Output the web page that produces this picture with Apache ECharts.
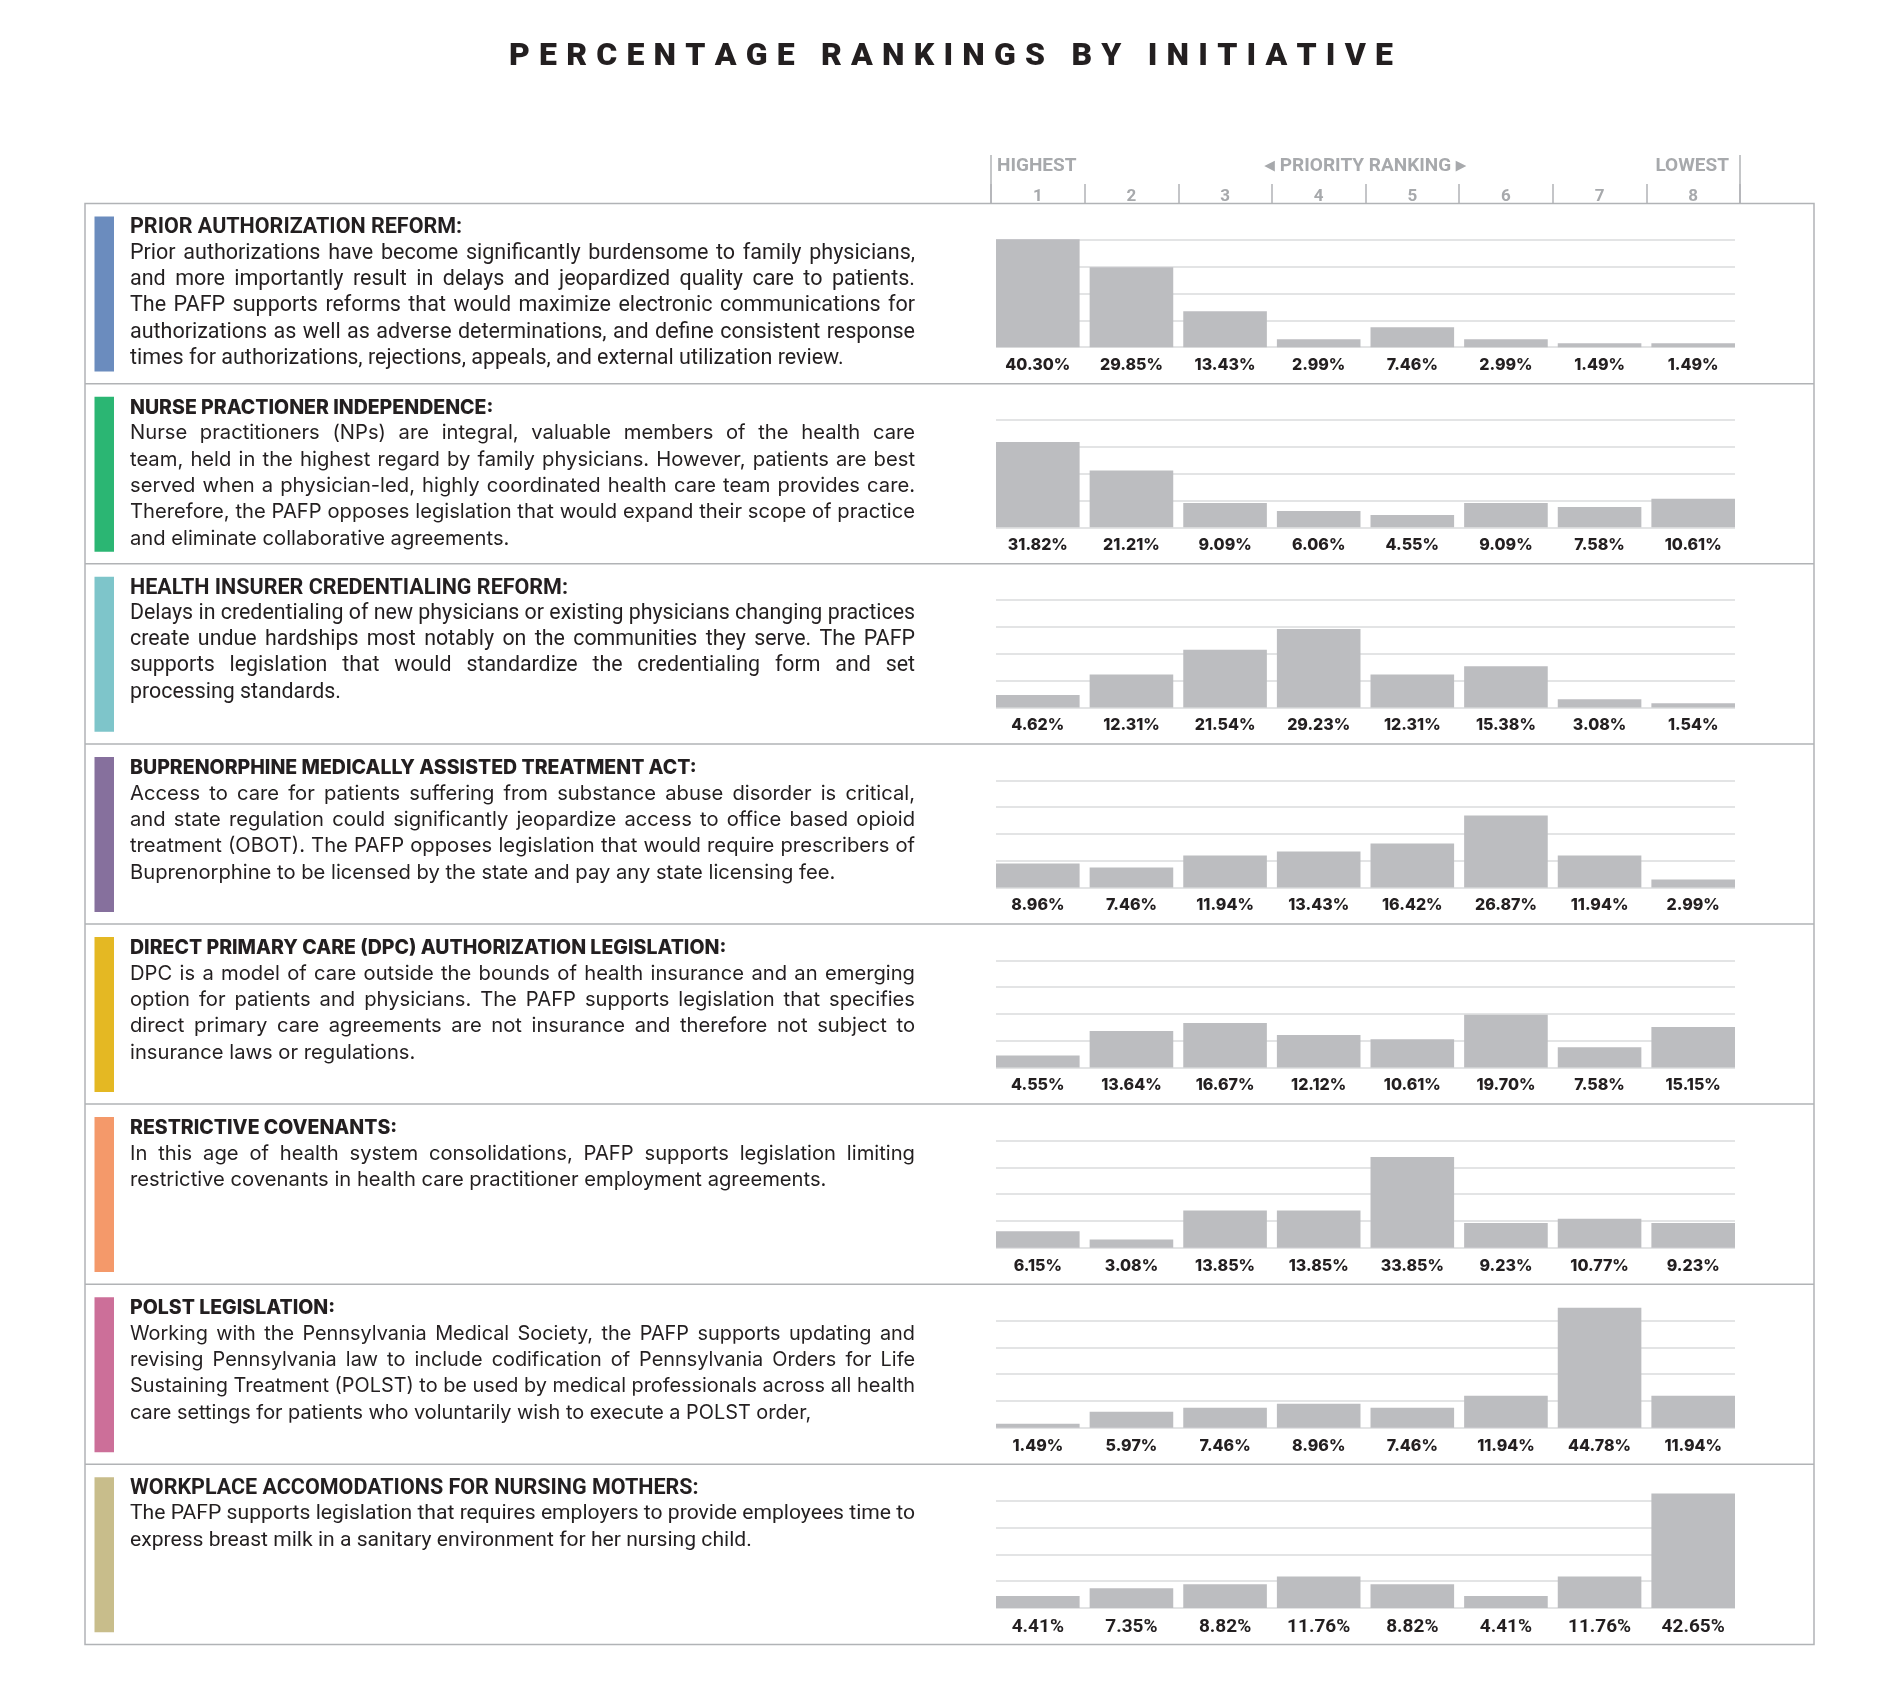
<!DOCTYPE html>
<html><head><meta charset="utf-8">
<script src="https://cdn.jsdelivr.net/npm/echarts@6/dist/echarts.min.js"></script>
<style>html,body{margin:0;padding:0;background:#fff}#chart{width:1900px;height:1689px}</style>
</head><body><div id="chart"></div>
<script>
// ---------- DATA ----------
const chartTitle = 'PERCENTAGE RANKINGS BY INITIATIVE';
const headerHigh = 'HIGHEST';
const headerMid = '\u25C2 PRIORITY RANKING \u25B8';
const headerLow = 'LOWEST';
const ranks = ['1', '2', '3', '4', '5', '6', '7', '8'];

const initiatives = [
  'PRIOR AUTHORIZATION REFORM:',
  'NURSE PRACTIONER INDEPENDENCE:',
  'HEALTH INSURER CREDENTIALING REFORM:',
  'BUPRENORPHINE MEDICALLY ASSISTED TREATMENT ACT:',
  'DIRECT PRIMARY CARE (DPC) AUTHORIZATION LEGISLATION:',
  'RESTRICTIVE COVENANTS:',
  'POLST LEGISLATION:',
  'WORKPLACE ACCOMODATIONS FOR NURSING MOTHERS:'
];

const descriptions = [
  ['Prior authorizations have become significantly burdensome to family physicians,',
   'and more importantly result in delays and jeopardized quality care to patients.',
   'The PAFP supports reforms that would maximize electronic communications for',
   'authorizations as well as adverse determinations, and define consistent response',
   'times for authorizations, rejections, appeals, and external utilization review.'],
  ['Nurse practitioners (NPs) are integral, valuable members of the health care',
   'team, held in the highest regard by family physicians. However, patients are best',
   'served when a physician-led, highly coordinated health care team provides care.',
   'Therefore, the PAFP opposes legislation that would expand their scope of practice',
   'and eliminate collaborative agreements.'],
  ['Delays in credentialing of new physicians or existing physicians changing practices',
   'create undue hardships most notably on the communities they serve. The PAFP',
   'supports legislation that would standardize the credentialing form and set',
   'processing standards.'],
  ['Access to care for patients suffering from substance abuse disorder is critical,',
   'and state regulation could significantly jeopardize access to office based opioid',
   'treatment (OBOT). The PAFP opposes legislation that would require prescribers of',
   'Buprenorphine to be licensed by the state and pay any state licensing fee.'],
  ['DPC is a model of care outside the bounds of health insurance and an emerging',
   'option for patients and physicians. The PAFP supports legislation that specifies',
   'direct primary care agreements are not insurance and therefore not subject to',
   'insurance laws or regulations.'],
  ['In this age of health system consolidations, PAFP supports legislation limiting',
   'restrictive covenants in health care practitioner employment agreements.'],
  ['Working with the Pennsylvania Medical Society, the PAFP supports updating and',
   'revising Pennsylvania law to include codification of Pennsylvania Orders for Life',
   'Sustaining Treatment (POLST) to be used by medical professionals across all health',
   'care settings for patients who voluntarily wish to execute a POLST order,'],
  ['The PAFP supports legislation that requires employers to provide employees time to',
   'express breast milk in a sanitary environment for her nursing child.']
];

const priorAuthorization = [40.30, 29.85, 13.43, 2.99, 7.46, 2.99, 1.49, 1.49];
const nursePractitioner  = [31.82, 21.21, 9.09, 6.06, 4.55, 9.09, 7.58, 10.61];
const insurerCredentialing = [4.62, 12.31, 21.54, 29.23, 12.31, 15.38, 3.08, 1.54];
const buprenorphine      = [8.96, 7.46, 11.94, 13.43, 16.42, 26.87, 11.94, 2.99];
const directPrimaryCare  = [4.55, 13.64, 16.67, 12.12, 10.61, 19.70, 7.58, 15.15];
const restrictiveCovenants = [6.15, 3.08, 13.85, 13.85, 33.85, 9.23, 10.77, 9.23];
const polstLegislation   = [1.49, 5.97, 7.46, 8.96, 7.46, 11.94, 44.78, 11.94];
const nursingMothers     = [4.41, 7.35, 8.82, 11.76, 8.82, 4.41, 11.76, 42.65];

const seriesValues = [priorAuthorization, nursePractitioner, insurerCredentialing, buprenorphine,
  directPrimaryCare, restrictiveCovenants, polstLegislation, nursingMothers];

const accentColors = ['#6b8cbe', '#2bb673', '#7ec5ca', '#86709d', '#e4b823', '#f4996a', '#cc6f99', '#c8bd8b'];

// ---------- LAYOUT / STYLE ----------
const boxL = 85, boxR = 1814, boxT = 203.6, rowH = 180.1;
const gridL = 991, gridW = 749;          // bar area (category bands)
const lineL = 996, lineW = 739;          // gridline span
const textL = 130, textR = 915;
const ink = '#231f20', rule = '#b1b3b6', headGray = '#a7a9ac', barGray = '#bcbdc0', gridGray = '#dadbdd';

const mctx = document.createElement('canvas').getContext('2d');
function measure(font, s) { mctx.font = font; return mctx.measureText(s).width; }

const condensedRows = [0, 2, 7];
function rowFonts(i) {
  const lab = i === 7 ? { labFam: 'Roboto', lab: 19, labW: 700 } : { labFam: 'Inter', lab: 16, labW: 800 };
  if (condensedRows.indexOf(i) >= 0) return Object.assign({ fam: 'Roboto', body: 21.5, bodyW: 400, head: 21.5, headW: 700 }, lab);
  return Object.assign({ fam: 'Inter', body: 20.2, bodyW: 400, head: 19.5, headW: 800 }, lab);
}

const graphics = [];
// chart title, letter-spaced
const titleFont = '900 32px Roboto';
const titleTarget = 884;
const chars = chartTitle.split('');
const cw = chars.map(c => measure(titleFont, c));
const natural = cw.reduce((a, b) => a + b, 0);
const letterSp = Math.max(0, (titleTarget - natural) / (chars.length - 1));
let tx = 951 - (natural + letterSp * (chars.length - 1)) / 2;
chars.forEach((c, k) => {
  if (c !== ' ') {
    graphics.push({ type: 'text', x: tx, y: 56.5, silent: true,
      style: { text: c, fontSize: 32, fontFamily: 'Roboto', fontWeight: 900, fill: ink,
        align: 'left', verticalAlign: 'middle', textAlign: 'left', textVerticalAlign: 'middle' } });
  }
  tx += cw[k] + letterSp;
});

// header texts
const hdrStyle = { fontSize: 19, fontFamily: 'Roboto', fontWeight: 700, fill: headGray, verticalAlign: 'middle', textVerticalAlign: 'middle' };
graphics.push({ type: 'text', x: 997, y: 166.5, silent: true, style: Object.assign({ text: headerHigh, align: 'left', textAlign: 'left' }, hdrStyle) });
graphics.push({ type: 'text', x: 1365.5, y: 166.5, silent: true, style: Object.assign({ text: headerMid, align: 'center', textAlign: 'center' }, hdrStyle) });
graphics.push({ type: 'text', x: 1729, y: 166.5, silent: true, style: Object.assign({ text: headerLow, align: 'right', textAlign: 'right' }, hdrStyle) });
[gridL, gridL + gridW].forEach(x => graphics.push({
  type: 'line', silent: true, shape: { x1: x, y1: 155, x2: x, y2: boxT },
  style: { stroke: rule, lineWidth: 1.5 }
}));

// table box and row separators
graphics.push({ type: 'rect', silent: true, shape: { x: boxL, y: boxT, width: boxR - boxL, height: rowH * 8 },
  style: { fill: 'none', stroke: rule, lineWidth: 1.5 } });
for (let i = 1; i < 8; i++) {
  const y = boxT + i * rowH;
  graphics.push({ type: 'line', silent: true, shape: { x1: boxL, y1: y, x2: boxR, y2: y }, style: { stroke: rule, lineWidth: 1.5 } });
}

// row texts (justified like the reference)
for (let i = 0; i < 8; i++) {
  const T = boxT + i * rowH;
  const f = rowFonts(i);
  graphics.push({ type: 'rect', silent: true, shape: { x: 94.5, y: T + 13, width: 19.5, height: 155 }, style: { fill: accentColors[i] } });
  graphics.push({ type: 'text', x: textL, y: T + 24.4, silent: true,
    style: { text: initiatives[i], fontSize: f.head, fontFamily: f.fam, fontWeight: f.headW, fill: ink,
      align: 'left', verticalAlign: 'middle', textAlign: 'left', textVerticalAlign: 'middle' } });
  let size = f.body;
  const lines = descriptions[i];
  lines.forEach(line => {
    const nat = measure(`${f.bodyW} ${size}px ${f.fam}`, line);
    const avail = textR - textL;
    if (nat > avail) size = size * avail / nat;
  });
  const font = `${f.bodyW} ${size}px ${f.fam}`;
  const spaceW = measure(font, ' ');
  lines.forEach((line, li) => {
    const y = T + 49.7 + li * 26.3;
    const words = line.split(' ');
    const widths = words.map(w => measure(font, w));
    const total = widths.reduce((a, b) => a + b, 0);
    const last = li === lines.length - 1;
    const gap = (!last && words.length > 1) ? (textR - textL - total) / (words.length - 1) : spaceW;
    let x = textL;
    words.forEach((w, wi) => {
      graphics.push({ type: 'text', x: x, y: y, silent: true,
        style: { text: w, fontSize: size, fontFamily: f.fam, fontWeight: f.bodyW, fill: ink,
          align: 'left', verticalAlign: 'middle', textAlign: 'left', textVerticalAlign: 'middle' } });
      x += widths[wi] + gap;
    });
  });
}

// ---------- CHART GRIDS ----------
const grids = [], xAxes = [], yAxes = [], series = [];
for (let i = 0; i < 8; i++) {
  const T = boxT + i * rowH;
  const f = rowFonts(i);
  const top = T + 36.4, height = 107.2;
  // gridline grid (narrower span)
  const gl = grids.length;
  grids.push({ left: lineL, width: lineW, top: top, height: height });
  xAxes.push({ type: 'category', gridIndex: gl, data: ranks, show: false });
  yAxes.push({ type: 'value', gridIndex: gl, min: 0, max: 40, interval: 10,
    axisLine: { show: false }, axisTick: { show: false }, axisLabel: { show: false },
    splitLine: { show: true, lineStyle: { color: gridGray, width: 1.5 } } });
  // bar grid
  const gb = grids.length;
  grids.push({ left: gridL, width: gridW, top: top, height: height });
  xAxes.push({ type: 'category', gridIndex: gb, data: ranks,
    axisLine: { show: false }, axisTick: { show: false }, axisLabel: { show: false } });
  yAxes.push({ type: 'value', gridIndex: gb, min: 0, max: 40, interval: 10, show: false,
    splitLine: { show: false } });
  series.push({
    type: 'bar', xAxisIndex: gb, yAxisIndex: gb, data: seriesValues[i],
    barCategoryGap: '10.7%', clip: false, silent: true, z: 3,
    itemStyle: { color: barGray },
    label: {
      show: true, position: 'bottom', distance: 10,
      formatter: p => p.value.toFixed(2) + '%',
      color: ink, fontFamily: f.labFam, fontWeight: f.labW, fontSize: f.lab
    }
  });
}
// header rank axis
const gh = grids.length;
grids.push({ left: gridL, width: gridW, top: 184, height: boxT - 184 });
xAxes.push({ type: 'category', gridIndex: gh, data: ranks, position: 'bottom',
  axisLine: { show: false },
  axisTick: { show: true, inside: true, length: boxT - 184, lineStyle: { color: rule, width: 1.5 } },
  axisLabel: { show: true, inside: true, margin: -1.5, color: headGray, fontFamily: 'Roboto', fontWeight: 700, fontSize: 17 } });
yAxes.push({ type: 'value', gridIndex: gh, show: false, splitLine: { show: false } });

const chart = echarts.init(document.getElementById('chart'), null, { renderer: 'canvas' });
chart.setOption({
  animation: false,
  backgroundColor: '#ffffff',
  grid: grids, xAxis: xAxes, yAxis: yAxes, series: series,
  graphic: { elements: graphics }
});
</script>
</body></html>
